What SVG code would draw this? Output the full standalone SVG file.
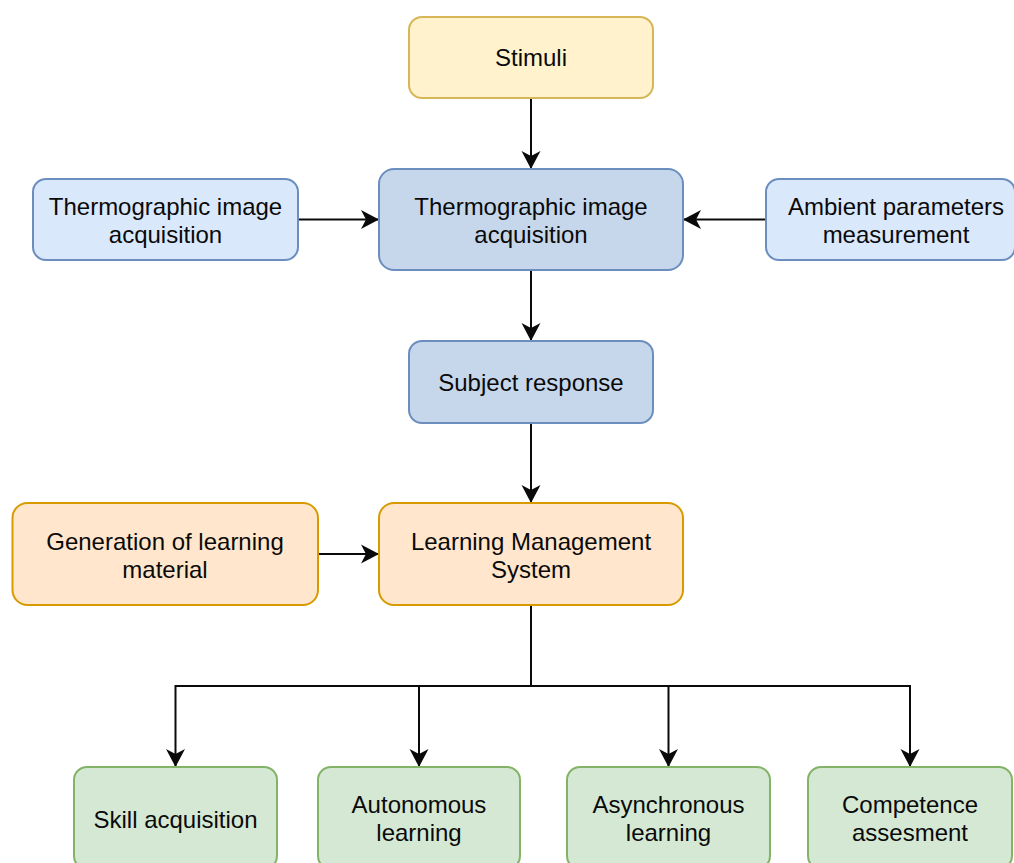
<svg xmlns="http://www.w3.org/2000/svg" width="1014" height="863" viewBox="0 0 1014 863">
<defs>
<style>
.box{stroke-width:2}
.yellow{fill:#fff2cc;stroke:#d6b656}
.lblue{fill:#dae8fc;stroke:#6c8ebf}
.dblue{fill:#c6d7eb;stroke:#6c8ebf}
.orange{fill:#ffe6cc;stroke:#d79b00}
.green{fill:#d5e8d4;stroke:#82b366}
text{font-family:"Liberation Sans",Arial,Helvetica,sans-serif;font-size:24px;fill:#0a0a0a;text-anchor:middle}
.edge{fill:none;stroke:#0a0a0a;stroke-width:2;marker-end:url(#arr)}
</style>
<marker id="arr" markerUnits="userSpaceOnUse" markerWidth="22" markerHeight="22" viewBox="0 0 22 22" refX="20" refY="11" orient="auto">
<path d="M20,11 L2,1.5 L7,11 L2,20.5 Z" fill="#0a0a0a"/>
</marker>
</defs>
<rect width="1014" height="863" fill="#fff"/>
<g id="connectors">
<path class="edge" d="M531,98 V169"/>
<path class="edge" d="M298,219.5 H379"/>
<path class="edge" d="M766,219.5 H683"/>
<path class="edge" d="M531,270 V341"/>
<path class="edge" d="M531,423 V503"/>
<path class="edge" d="M318,554 H379"/>
<path class="edge" d="M531,605 V686 H175.5 V767"/>
<path class="edge" d="M531,605 V686 H419 V767"/>
<path class="edge" d="M531,605 V686 H668.5 V767"/>
<path class="edge" d="M531,605 V686 H910 V767"/>
</g>
<g id="stimuli">
<rect class="box yellow" x="409" y="17" width="244" height="81" rx="13"/>
<text x="531" y="66">Stimuli</text>
</g>
<g id="thermo-left">
<rect class="box lblue" x="33" y="179" width="265" height="81" rx="13"/>
<text x="165.5" y="215">Thermographic image</text>
<text x="165.5" y="243">acquisition</text>
</g>
<g id="thermo-center">
<rect class="box dblue" x="379" y="169" width="304" height="101" rx="15"/>
<text x="531" y="215">Thermographic image</text>
<text x="531" y="243">acquisition</text>
</g>
<g id="ambient">
<rect class="box lblue" x="766" y="179" width="249" height="81" rx="13"/>
<text x="896" y="215">Ambient parameters</text>
<text x="896" y="243">measurement</text>
</g>
<g id="subject">
<rect class="box dblue" x="409" y="341" width="244" height="82" rx="13"/>
<text x="531" y="391">Subject response</text>
</g>
<g id="generation">
<rect class="box orange" x="12.5" y="503" width="305.5" height="102" rx="15"/>
<text x="165" y="550">Generation of learning</text>
<text x="165" y="578">material</text>
</g>
<g id="lms">
<rect class="box orange" x="379" y="503" width="304" height="102" rx="15"/>
<text x="531" y="550">Learning Management</text>
<text x="531" y="578">System</text>
</g>
<g id="skill">
<rect class="box green" x="74" y="767" width="203" height="102" rx="13"/>
<text x="175.5" y="828">Skill acquisition</text>
</g>
<g id="autonomous">
<rect class="box green" x="318" y="767" width="202" height="102" rx="13"/>
<text x="419" y="813">Autonomous</text>
<text x="419" y="841">learning</text>
</g>
<g id="asynchronous">
<rect class="box green" x="567" y="767" width="203" height="102" rx="13"/>
<text x="668.5" y="813">Asynchronous</text>
<text x="668.5" y="841">learning</text>
</g>
<g id="competence">
<rect class="box green" x="808" y="767" width="204" height="102" rx="13"/>
<text x="910" y="813">Competence</text>
<text x="910" y="841">assesment</text>
</g>
</svg>
